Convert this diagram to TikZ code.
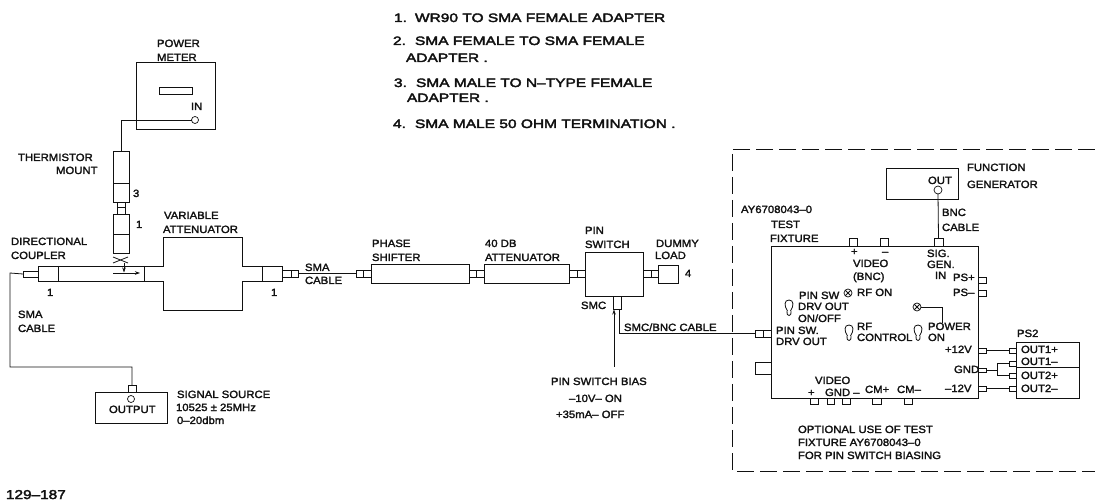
\documentclass[tikz,border=0pt]{standalone}
\usepackage{fontspec}
\setmainfont{Liberation Sans}
\newfontfamily\labfont[FakeStretch=1.08,FakeBold=2]{Liberation Sans}
\newfontfamily\listfont[FakeStretch=1.27,FakeBold=3]{Liberation Sans}
\newfontfamily\numfont[FakeStretch=1.2,FakeBold=3]{Liberation Sans}
\usetikzlibrary{arrows.meta}
\definecolor{ink}{HTML}{111111}
\tikzset{
  wire/.style={draw=ink,line width=.8pt},
  part/.style={draw=ink,line width=.9pt,inner sep=0pt,outer sep=0pt,rectangle},
  port/.style={draw=ink,line width=.7pt,circle,inner sep=0pt,outer sep=0pt,minimum size=7pt},
  lamp/.style={draw=ink,line width=.7pt,circle,inner sep=0pt,outer sep=0pt,minimum size=8pt},
  lab/.style={anchor=base west,inner sep=0pt,outer sep=0pt,text=ink,font=\labfont\fontsize{10.5pt}{12pt}\selectfont},
  listlab/.style={lab,font=\listfont\fontsize{12.2pt}{14pt}\selectfont},
  numlab/.style={lab,font=\numfont\fontsize{12.8pt}{14pt}\selectfont},
  tip/.style={-{Stealth[length=5pt,width=3.5pt]}},
}
\newcommand\bx[5]{%
  \pgfmathsetmacro\bxw{#4-#2}\pgfmathsetmacro\bxh{#5-#3}%
  \pgfmathsetmacro\bxx{(#2+#4)/2}\pgfmathsetmacro\bxy{(#3+#5)/2}%
  \node[part,minimum width=\bxw pt,minimum height=\bxh pt] (#1) at (\bxx,\bxy) {};}
\newcommand\lab[4]{\node[lab] (#1) at (#2,#3) {#4};}
\newcommand\toggle[2]{%
  \draw[wire,shift={(#1,#2)}] (-1.5,3) .. controls (-5,-2) and (-5,-8) .. (0,-8)
     .. controls (5,-8) and (5,-2) .. (1.5,3)
     (-2,3) .. controls (-3.5,9) and (3.5,9) .. (2,3);}
\begin{document}
\begin{tikzpicture}[x=1pt,y=-1pt]
\useasboundingbox[fill=white] (0,0) rectangle (1095,502);

% numbered list
\node[listlab] (l1) at (394,22) {1.};
\node[listlab] (l1t) at (415,22) {WR90 TO SMA FEMALE ADAPTER};
\node[listlab] (l2) at (393,45) {2.};
\node[listlab] (l2t) at (415,45) {SMA FEMALE TO SMA FEMALE};
\node[listlab] (l2u) at (406,62) {ADAPTER .};
\node[listlab] (l3) at (394,87) {3.};
\node[listlab] (l3t) at (416,87) {SMA MALE TO N–TYPE FEMALE};
\node[listlab] (l3u) at (407,102) {ADAPTER .};
\node[listlab] (l4) at (393,128) {4.};
\node[listlab] (l4t) at (415,128) {SMA MALE 50 OHM TERMINATION .};
\node[numlab] (fig) at (6,499) {129–187};

% power meter
\bx{meter}{136}{62}{215}{129}
\bx{slot}{159}{87}{192}{94}
\node[port] (in) at (195,120) {};
\lab{tpow}{157}{47}{POWER}
\lab{tmet}{157}{61}{METER}
\lab{tin}{191}{110}{IN}

% thermistor mount stack
\bx{mount}{113}{151}{129}{183}
\bx{adp3}{113}{183}{129}{202}
\bx{neckA}{117}{202}{125}{207}
\bx{neckB}{117}{207}{125}{214}
\bx{adp1a}{113}{214}{129}{234}
\bx{adp1b}{113}{234}{129}{253}
\draw[wire] (in.west) -| (mount.north);
\lab{tth}{18}{161}{THERMISTOR}
\lab{tmo}{56}{174}{MOUNT}
\lab{t3}{133}{197}{3}
\lab{t1a}{136}{228}{1}

% coupler + variable attenuator outline
\coordinate (xa) at (113,257); \coordinate (xb) at (128,263);
\coordinate (xc) at (113,263); \coordinate (xd) at (128,257);
\draw[wire] (xa) -- (xb) (xc) -- (xd);
\draw[wire,line width=.9pt] (163,266) -- (163,237) -- (242,237) -- (242,266) -- (282,266)
   -- (282,281) -- (242,281) -- (242,310) -- (163,310) -- (163,281) -- (38,281) -- (38,266) -- cycle;
\draw[wire,line width=.9pt] (58,266) -- (58,281) (144,266) -- (144,281) (262,266) -- (262,281);
\coordinate (cpa) at (113,273); \coordinate (cpb) at (140,273);
\coordinate (cpc) at (124,263); \coordinate (cpd) at (124,272.5);
\draw[wire,tip] (cpa) -- (cpb);
\draw[wire,tip] (cpc) -- (cpd);
\lab{tvar}{164}{219}{VARIABLE}
\lab{tatt}{163}{233}{ATTENUATOR}
\lab{tdir}{11}{245}{DIRECTIONAL}
\lab{tcou}{11}{259}{COUPLER}
\lab{t1b}{47}{296}{1}
\lab{t1c}{271}{296}{1}

% left connector, signal source
\bx{cl}{23}{271}{38}{277}
\bx{srcc}{128}{385}{136}{392}
\bx{src}{95}{392}{167}{423}
\node[port] (srcp) at (131,399) {};
\coordinate (bendA) at (10,273);
\coordinate (bendB) at (10,367);
\draw[wire] (cl.west) -- (bendA) -- (bendB) -| (srcc.north);
\lab{tsma}{18}{318}{SMA}
\lab{tcab}{18}{332}{CABLE}
\lab{tout}{109}{413}{OUTPUT}
\lab{tsig}{177}{398}{SIGNAL SOURCE}
\lab{tfrq}{176}{411}{10525 ± 25MHz}
\lab{tlev}{177}{424}{0–20dbm}

% chain
\bx{caA}{282}{270}{291}{277}
\bx{caB}{291}{270}{298}{277}
\bx{cbA}{356}{270}{363}{277}
\bx{cbB}{363}{270}{371}{277}
\draw[wire] (caB.east) -- (cbA.west);
\lab{tsmb}{305}{271}{SMA}
\lab{tcbb}{305}{284}{CABLE}
\bx{phase}{371}{264}{469}{283}
\bx{ccA}{469}{270}{476}{277}
\bx{ccB}{476}{270}{484}{277}
\bx{db}{484}{264}{569}{283}
\bx{cdA}{569}{270}{577}{277}
\bx{cdB}{577}{270}{585}{277}
\bx{pin}{585}{252}{643}{296}
\bx{ceA}{643}{270}{651}{277}
\bx{ceB}{651}{270}{658}{277}
\bx{load}{658}{265}{678}{283}
\bx{smc}{613}{296}{621}{309}
\lab{tpha}{372}{247}{PHASE}
\lab{tshi}{372}{261}{SHIFTER}
\lab{t40}{485}{247}{40 DB}
\lab{tat2}{485}{261}{ATTENUATOR}
\lab{tpin}{585}{234}{PIN}
\lab{tswi}{585}{248}{SWITCH}
\lab{tdum}{656}{247}{DUMMY}
\lab{tloa}{655}{259}{LOAD}
\lab{t4}{685}{277}{4}
\lab{tsmc}{581}{309}{SMC}
\lab{tsb}{624}{331}{SMC/BNC CABLE}
\lab{tbi}{551}{385}{PIN SWITCH BIAS}
\lab{tbj}{569}{402}{–10V– ON}
\lab{tbk}{556}{418}{+35mA– OFF}
\coordinate (bias) at (614,367);
\draw[wire,tip] (bias) -- (614,309.5);

% dashed enclosure
\coordinate (dA) at (1095,149); \coordinate (dB) at (732,149);
\coordinate (dC) at (732,471);  \coordinate (dD) at (1095,471);
\draw[wire,dash pattern=on 17pt off 6pt] (dA) -- (dB) -- (dC) -- (dD);

% function generator
\bx{fg}{886}{168}{958}{199}
\node[port,minimum size=8pt] (fgo) at (938,190) {};
\lab{tfun}{967}{171}{FUNCTION}
\lab{tgen}{967}{188}{GENERATOR}
\lab{tfo}{928}{184}{OUT}
\lab{tbn}{942}{216}{BNC}
\lab{tbc}{942}{231}{CABLE}

% test fixture
\bx{fix}{771}{246}{978}{398}
\bx{tcA}{849}{238}{857}{246}
\bx{tcB}{880}{238}{888}{246}
\bx{tcC}{934}{238}{943}{246}
\draw[wire] (fgo.south) -- (tcC.north);
\bx{psp}{978}{277}{986}{283}
\bx{psm}{978}{290}{986}{296}
\bx{drvA}{755}{330}{763}{337}
\bx{drvB}{763}{330}{771}{337}
\bx{lbox}{755}{362}{771}{374}
\draw[wire] ([xshift=2pt]smc.south) |- (drvA.west);
\bx{bcA}{810}{398}{818}{404}
\bx{bcB}{827}{398}{834}{404}
\bx{bcC}{842}{398}{850}{404}
\bx{bcD}{872}{398}{881}{404}
\bx{bcE}{904}{398}{912}{404}
\bx{rcA}{978}{348}{986}{353}
\bx{rcB}{978}{368}{986}{372}
\bx{rcC}{978}{386}{986}{391}
\node[lamp] (rfl) at (848,293) {};
\draw[wire] (rfl.45) -- (rfl.225) (rfl.135) -- (rfl.315);
\node[lamp] (pwl) at (917,307) {};
\draw[wire] (pwl.45) -- (pwl.225) (pwl.135) -- (pwl.315);
\coordinate (pwe) at (942,323);
\draw[wire] (pwl.east) -| (pwe);
\toggle{789}{308}
\toggle{849}{333}
\toggle{918}{333}
\lab{tay}{741}{213}{AY6708043–0}
\lab{ttes}{771}{228}{TEST}
\lab{tfix}{770}{242}{FIXTURE}
\lab{tvp}{851}{255}{+}
\lab{tvm}{882}{255}{–}
\lab{tvid}{853}{267}{VIDEO}
\lab{tbnc}{853}{280}{(BNC)}
\lab{tsg}{927}{257}{SIG.}
\lab{tge}{927}{268}{GEN.}
\lab{tsi}{935}{279}{IN}
\lab{tpp}{953}{281}{PS+}
\lab{tpm}{953}{296}{PS–}
\lab{trfo}{857}{296}{RF ON}
\lab{tps}{799}{299}{PIN SW}
\lab{tdr}{798}{310}{DRV OUT}
\lab{ton}{798}{322}{ON/OFF}
\lab{tps2}{776}{334}{PIN SW.}
\lab{tdr2}{776}{345}{DRV OUT}
\lab{trf}{857}{330}{RF}
\lab{tctl}{857}{341}{CONTROL}
\lab{tpwr}{928}{330}{POWER}
\lab{tpon}{928}{341}{ON}
\lab{tp12}{945}{353}{+12V}
\lab{tgnd}{954}{373}{GND}
\lab{tm12}{945}{392}{–12V}
\lab{tvi2}{815}{384}{VIDEO}
\lab{tvp2}{808}{396}{+}
\lab{tgn2}{825}{396}{GND –}
\lab{tcmp}{865}{393}{CM+}
\lab{tcmm}{897}{393}{CM–}
\lab{topa}{798}{433}{OPTIONAL USE OF TEST}
\lab{topb}{798}{446}{FIXTURE AY6708043–0}
\lab{topc}{798}{459}{FOR PIN SWITCH BIASING}

% PS2
\bx{ps}{1016}{342}{1079}{398}
\coordinate (psL) at (1016,367); \coordinate (psR) at (1079,367);
\draw[wire] (psL) -- (psR);
\bx{oA}{1009}{348}{1016}{353}
\bx{oB}{1009}{361}{1016}{366}
\bx{oC}{1009}{373}{1016}{378}
\bx{oD}{1009}{386}{1016}{391}
\draw[wire] (rcA.east) -- (oA.west);
\draw[wire] (rcC.east) -- (oD.west);
\coordinate (gj) at (997,370);
\draw[wire] (rcB.east) -- (gj);
\draw[wire] (gj) |- (oB.west);
\draw[wire] (gj) |- (oC.west);
\lab{tps2b}{1017}{337}{PS2}
\lab{to1p}{1021}{353}{OUT1+}
\lab{to1m}{1021}{365}{OUT1–}
\lab{to2p}{1021}{379}{OUT2+}
\lab{to2m}{1021}{392}{OUT2–}
\end{tikzpicture}
\end{document}
